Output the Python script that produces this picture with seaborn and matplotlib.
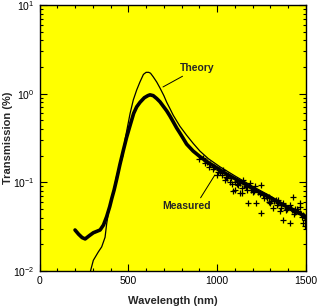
import matplotlib
matplotlib.use("Agg")
import matplotlib.pyplot as plt
import seaborn as sns
import pandas as pd
from matplotlib.ticker import MultipleLocator, LogLocator, NullFormatter

sns.set_style("ticks")
plt.rcParams['font.family'] = ['Liberation Sans', 'DejaVu Sans']
plt.rcParams['mathtext.fontset'] = 'custom'
plt.rcParams['mathtext.rm'] = 'Liberation Sans'
plt.rcParams['mathtext.default'] = 'regular'

# Measured (smooth, dense part)
meas_wl = [200, 220, 240, 257, 280, 303, 341, 360, 378, 395, 407, 420, 435, 453, 472,
           490, 510, 530, 547, 566, 590, 610, 622, 640, 660, 678, 697, 716, 734, 753,
           772, 790, 810, 828, 865, 903, 950, 1000, 1050, 1100, 1150, 1200, 1250, 1300,
           1350, 1400, 1450, 1500]
meas_t = [0.029, 0.026, 0.0238, 0.023, 0.025, 0.027, 0.029, 0.033, 0.041, 0.053, 0.066,
          0.082, 0.11, 0.16, 0.23, 0.32, 0.44, 0.60, 0.71, 0.80, 0.90, 0.95, 0.97, 0.95,
          0.88, 0.81, 0.72, 0.64, 0.56, 0.48, 0.41, 0.36, 0.31, 0.27, 0.225, 0.195,
          0.167, 0.145, 0.125, 0.11, 0.097, 0.085, 0.075, 0.067, 0.059, 0.052, 0.046,
          0.041]

# Theory
theo_wl = [287, 303, 331, 350, 369, 378, 387, 397, 416, 435, 453, 468, 481, 495, 510,
           528, 547, 565, 585, 600, 615, 625, 640, 660, 679, 700, 716, 734, 753, 790,
           828, 865, 903, 950, 1015, 1100, 1200, 1300, 1400, 1500]
theo_t = [0.010, 0.0132, 0.0164, 0.0187, 0.024, 0.034, 0.044, 0.055, 0.078, 0.12, 0.155,
          0.195, 0.30, 0.42, 0.60, 0.85, 1.10, 1.35, 1.65, 1.74, 1.74, 1.70, 1.55, 1.35,
          1.15, 0.95, 0.80, 0.68, 0.57, 0.43, 0.34, 0.275, 0.225, 0.185, 0.15, 0.118,
          0.09, 0.07, 0.053, 0.04]

# Scattered measured points (long-wavelength noise)
pts_wl = [997, 1015, 1034, 1052, 1053, 1090, 1099, 1099, 1128, 1137, 1146, 1174, 1184,
          1212, 1221, 1249, 1249, 1296, 1315, 1343, 1352, 1371, 1371, 1390, 1408, 1408,
          1427, 1455, 1465, 1465, 1483, 1483, 1493, 920, 940, 960, 980, 1010, 1030, 1060,
          1080, 1110, 1130, 1160, 1190, 1230, 1260, 1280, 1320, 1340, 1380, 1420, 1440,
          1470, 1490, 1500, 1160, 1275, 1330, 1440,
          900, 930, 955, 975, 1005, 1025, 1045, 1070, 1085, 1120, 1140, 1170, 1200,
          1240, 1265, 1290, 1305, 1335, 1360, 1395, 1415, 1435, 1450, 1475, 1495,
          1110, 1205, 1290, 1360, 1430]
pts_t = [0.121, 0.13, 0.138, 0.116, 0.111, 0.079, 0.082, 0.102, 0.075, 0.076, 0.106,
         0.058, 0.098, 0.091, 0.058, 0.094, 0.045, 0.058, 0.051, 0.063, 0.047, 0.058,
         0.038, 0.049, 0.056, 0.0345, 0.069, 0.047, 0.058, 0.053, 0.043, 0.0345, 0.032,
         0.19, 0.17, 0.16, 0.15, 0.138, 0.128, 0.12, 0.113, 0.104, 0.098, 0.09, 0.083,
         0.077, 0.072, 0.066, 0.062, 0.058, 0.054, 0.049, 0.046, 0.044, 0.042, 0.04,
         0.088, 0.07, 0.064, 0.05,
         0.185, 0.165, 0.148, 0.14, 0.13, 0.12, 0.107, 0.1, 0.095, 0.093, 0.087, 0.083,
         0.078, 0.074, 0.066, 0.068, 0.062, 0.055, 0.056, 0.05, 0.051, 0.044, 0.05,
         0.041, 0.038, 0.097, 0.08, 0.06, 0.052, 0.047]

df_m = pd.DataFrame({"wl": meas_wl, "t": meas_t})
df_t = pd.DataFrame({"wl": theo_wl, "t": theo_t})
df_p = pd.DataFrame({"wl": pts_wl, "t": pts_t})

fig = plt.figure(figsize=(3.17, 3.07), dpi=100)
fig.patch.set_facecolor("white")
ax = fig.add_axes([39.5 / 317, 1 - 271 / 307, 266.5 / 317, 266 / 307])
ax.set_facecolor("#FFFF00")

sns.lineplot(data=df_t, x="wl", y="t", ax=ax, color="black", lw=0.9, sort=False)
sns.lineplot(data=df_m, x="wl", y="t", ax=ax, color="black", lw=2.6, sort=False)
sns.scatterplot(data=df_p, x="wl", y="t", ax=ax, color="black", marker="+", s=14,
                linewidth=0.9)

ax.set_yscale("log")
ax.set_xlim(0, 1500)
ax.set_ylim(0.01, 10)
ax.xaxis.set_major_locator(MultipleLocator(500))
ax.xaxis.set_minor_locator(MultipleLocator(100))
ax.yaxis.set_major_locator(LogLocator(base=10, numticks=10))
ax.yaxis.set_minor_locator(LogLocator(base=10, subs=range(2, 10), numticks=10))
ax.yaxis.set_minor_formatter(NullFormatter())
ax.tick_params(which="both", direction="in", top=True, right=True, colors="black",
               labelsize=7.5, width=0.8)
ax.tick_params(which="major", length=5)
ax.tick_params(which="minor", length=2.5)
for s in ax.spines.values():
    s.set_color("black")
    s.set_linewidth(1.0)

ax.set_xlabel("Wavelength (nm)", fontsize=8, fontweight="bold")
ax.set_ylabel("Transmission (%)", fontsize=8, fontweight="bold")
ax.xaxis.set_label_coords(0.5, -0.095)
ax.yaxis.set_label_coords(-0.1, 0.5)

ax.annotate("Theory", xy=(695, 1.19), xytext=(790, 1.95), fontsize=7.5,
            fontweight="bold", va="center", ha="left",
            arrowprops=dict(arrowstyle="-", color="black", lw=0.7,
                            shrinkA=0, shrinkB=0, relpos=(0.25, 0.0)))
ax.annotate("Measured", xy=(987, 0.121), xytext=(690, 0.054), fontsize=7.5,
            fontweight="bold", va="center", ha="left",
            arrowprops=dict(arrowstyle="-", color="black", lw=0.7,
                            shrinkA=0, shrinkB=0, relpos=(0.75, 1.0)))

fig.savefig("out.png", dpi=100)
